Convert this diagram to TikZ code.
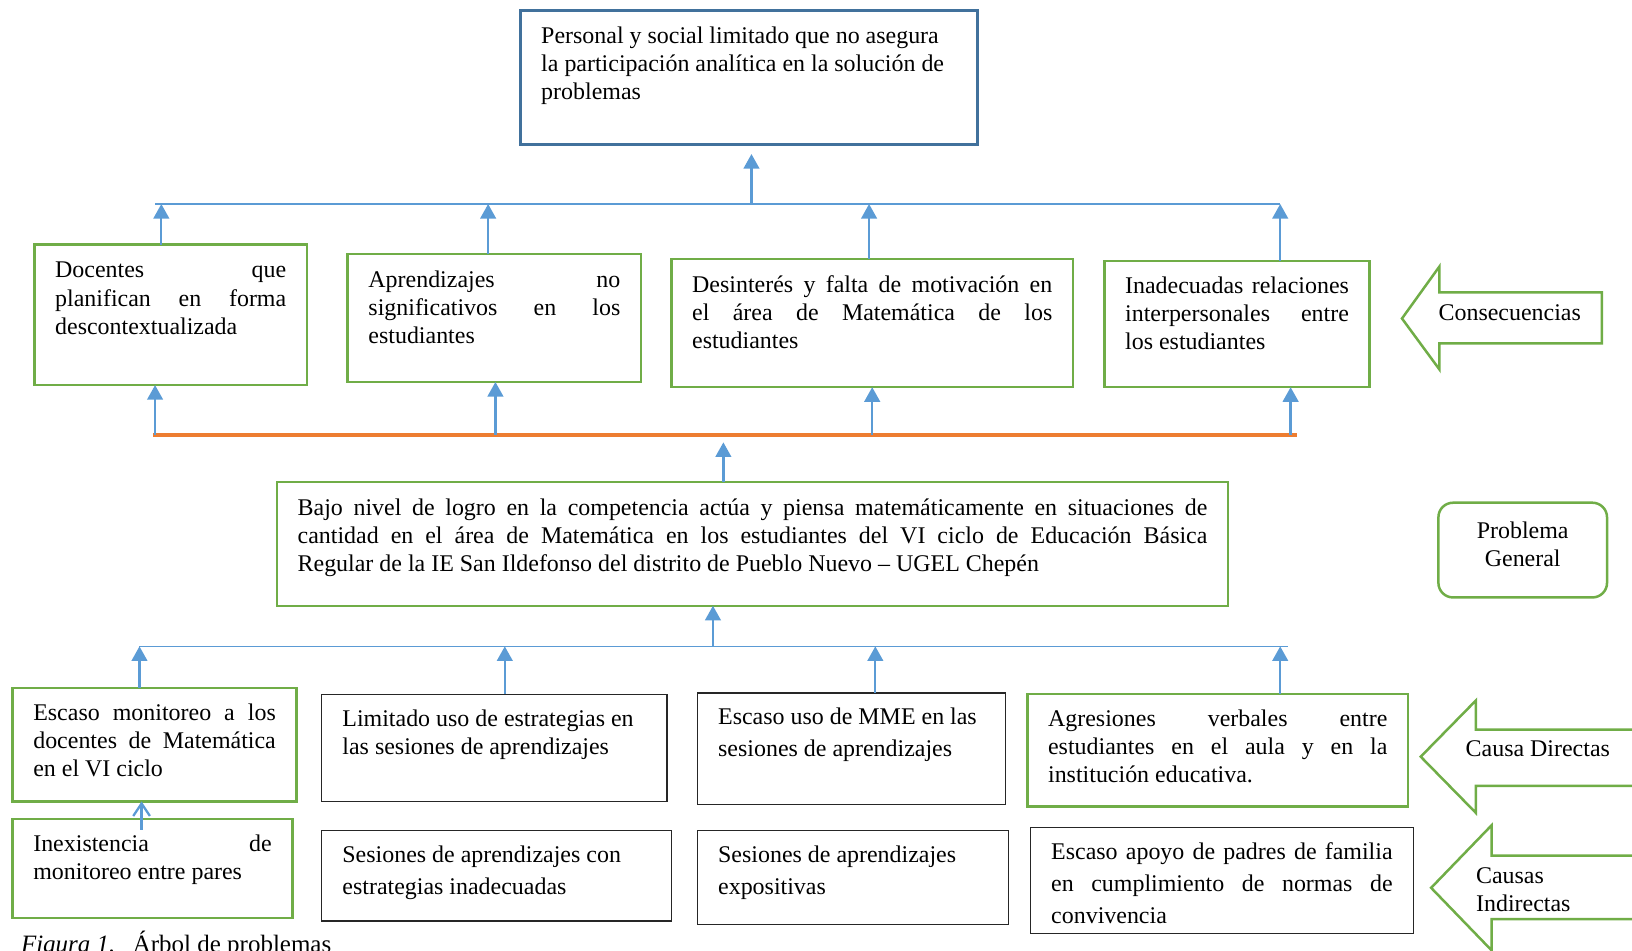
\documentclass[tikz,border=0pt]{standalone}
\usepackage{fontspec}
\setmainfont{Liberation Serif}
\usetikzlibrary{arrows.meta}

\definecolor{boxgreen}{RGB}{112,173,71}
\definecolor{linkblue}{RGB}{91,155,213}
\definecolor{edgeblue}{RGB}{65,113,156}
\definecolor{barorange}{RGB}{237,125,49}

% justified line inside a box
\newcommand{\jl}[1]{\makebox[\hsize][s]{#1}}

\tikzset{
  box/.style={draw, line width=2.4pt, anchor=north west, outer sep=0pt,
    inner xsep=20pt, inner ysep=0pt, align=flush left,
    font=\fontsize{23}{27}\selectfont},
  greenbox/.style={box, draw=boxgreen},
  blackbox/.style={box, draw=black!85, line width=1.4pt},
  bluebox/.style={box, draw=edgeblue},
  arr/.style={linkblue, line width=2.2pt, -{Triangle[width=15pt,length=14pt]}},
  openarr/.style={linkblue, line width=2.2pt, -{Straight Barb[width=16pt,length=12pt]}},
  bar/.style={linkblue, line width=1.6pt},
  bigarrow/.style={boxgreen, line width=2.4pt, fill=white},
  tag/.style={anchor=base west, inner sep=0pt, align=flush left,
    font=\fontsize{23}{27}\selectfont}
}

\begin{document}
\begin{tikzpicture}[x=1pt, y=-1pt]
\useasboundingbox (0,0) rectangle (1568,913);
\clip (0,0) rectangle (1568,913);

% efecto final
\node[bluebox, text width=399pt, text height=32pt, text depth=97pt] (t) at (500,10)
  {Personal y social limitado que no asegura\\la participación analítica en la solución de\\problemas};

% consecuencias
\node[greenbox, text width=222pt, text height=32pt, text depth=103pt] (c1) at (33,235)
  {\jl{Docentes que}\\\jl{planifican en forma}\\descontextualizada};
\node[greenbox, text width=242pt, text height=32pt, text depth=91pt] (c2) at (334,244)
  {\jl{Aprendizajes no}\\\jl{significativos en los}\\estudiantes};
\node[greenbox, text width=346pt, text height=32pt, text depth=91pt] (c3) at (645,249)
  {\jl{Desinterés y falta de motivación en}\\\jl{el área de Matemática de los}\\estudiantes};
\node[greenbox, text width=215pt, text height=31pt, text depth=90pt] (c4) at (1061,251)
  {\jl{Inadecuadas relaciones}\\\jl{interpersonales entre}\\los estudiantes};

% problema
\node[greenbox, text width=874pt, text height=32pt, text depth=87pt] (m) at (266,463)
  {\jl{Bajo nivel de logro en la competencia actúa y piensa matemáticamente en situaciones de}\\
   \jl{cantidad en el área de Matemática en los estudiantes del VI ciclo de Educación Básica}\\
   Regular de la IE San Ildefonso del distrito de Pueblo Nuevo – UGEL Chepén};
\node[greenbox, rounded corners=14pt, inner xsep=0pt, text width=162pt, align=flush center,
  text height=34pt, text depth=57pt] (pg) at (1382,483) {Problema\\General};

% causas directas
\node[greenbox, text width=233pt, text height=31pt, text depth=78pt] (d1) at (12,661)
  {\jl{Escaso monitoreo a los}\\\jl{docentes de Matemática}\\en el VI ciclo};
\node[blackbox, text width=292pt, text height=31pt, text depth=72pt] (d2) at (309,667)
  {Limitado uso de estrategias en\\las sesiones de aprendizajes};
\node[blackbox, text width=256pt, text height=30pt, text depth=77pt,
  font=\fontsize{23}{31}\selectfont] (d3) at (670,666)
  {Escaso uso de MME en las\\sesiones de aprendizajes};
\node[greenbox, text width=326pt, text height=31pt, text depth=77pt] (d4) at (987,667)
  {\jl{Agresiones verbales entre}\\\jl{estudiantes en el aula y en la}\\institución educativa.};

% causas indirectas
\node[greenbox, text width=229pt, text height=31pt, text depth=64pt] (i1) at (12,787)
  {\jl{Inexistencia de}\\monitoreo entre pares};
\node[blackbox, text width=296pt, text height=31pt, text depth=56pt,
  font=\fontsize{23}{30}\selectfont] (i2) at (309,798)
  {Sesiones de aprendizajes con\\estrategias inadecuadas};
\node[blackbox, text width=259pt, text height=31pt, text depth=59pt,
  font=\fontsize{23}{30}\selectfont] (i3) at (670,798)
  {Sesiones de aprendizajes\\expositivas};
\node[blackbox, text width=328pt, text height=31pt, text depth=71pt,
  font=\fontsize{23}{30.5}\selectfont] (i4) at (990,795)
  {\jl{Escaso apoyo de padres de familia}\\\jl{en cumplimiento de normas de}\\convivencia};

% flechas laterales
\draw[bigarrow] (1539,281) -- (1383,281) -- (1383,256) -- (1347,306) -- (1383,355)
  -- (1383,330) -- (1539,330) -- cycle;
\node[tag] (consec) at (1382,308) {Consecuencias};
\draw[bigarrow] (1600,701) -- (1418,701) -- (1418,673) -- (1365,727) -- (1418,781)
  -- (1418,755) -- (1600,755);
\node[tag] (causad) at (1408,727) {Causa Directas};
\draw[bigarrow] (1600,822) -- (1433,822) -- (1433,793) -- (1375,853) -- (1433,913)
  -- (1433,883) -- (1600,883);
\node[tag, text width=140pt] (causai) at (1418,849) {Causas\\Indirectas};

% barra superior
\coordinate (kw) at (149,196);
\coordinate (kt) at (722,196);
\coordinate (k1) at (155,196);
\coordinate (k2) at (469,196);
\coordinate (k3) at (835,196);
\coordinate (k4) at (1230,196);
\draw[bar] (kw) -- (k4);
\draw[arr] (kt) -- ([yshift=-9pt]t.south -| kt);
\draw[arr] (c1.north -| k1) -- (k1);
\draw[arr] (c2.north -| k2) -- (k2);
\draw[arr] (c3.north -| k3) -- (k3);
\draw[arr] (c4.north -| k4) -- (k4);

% barra naranja
\coordinate (ow) at (147,418);
\coordinate (oe) at (1246,418);
\coordinate (o1) at (149,418);
\coordinate (o2) at (476,418);
\coordinate (o3) at (838,418);
\coordinate (o4) at (1240,418);
\coordinate (om) at (695,418);
\draw[barorange, line width=3.2pt] (ow) -- (oe);
\draw[arr] (o1) -- (c1.south -| o1);
\draw[arr] (o2) -- (c2.south -| o2);
\draw[arr] (o3) -- (c3.south -| o3);
\draw[arr] (o4) -- (c4.south -| o4);
\draw[arr] (m.north -| om) -- ([yshift=-7pt]om);

% barra inferior
\coordinate (l1) at (134,621);
\coordinate (l2) at (485,621);
\coordinate (l3) at (841,621);
\coordinate (l4) at (1230,621);
\coordinate (le) at (1237,621);
\coordinate (lm) at (685,621);
\draw[bar] (l1) -- (le);
\draw[arr] (lm) -- (m.south -| lm);
\draw[arr] (d1.north -| l1) -- (l1);
\draw[arr] (d2.north -| l2) -- (l2);
\draw[arr] (d3.north -| l3) -- (l3);
\draw[arr] (d4.north -| l4) -- (l4);

\coordinate (p1) at (136,797);
\draw[openarr] (p1) -- (d1.south -| p1);

\node[anchor=base west, inner sep=0pt, font=\fontsize{24}{28}\selectfont] (cap) at (20,915)
  {\textit{Figura 1.}\hspace{0.7em}Árbol de problemas};
\end{tikzpicture}
\end{document}
